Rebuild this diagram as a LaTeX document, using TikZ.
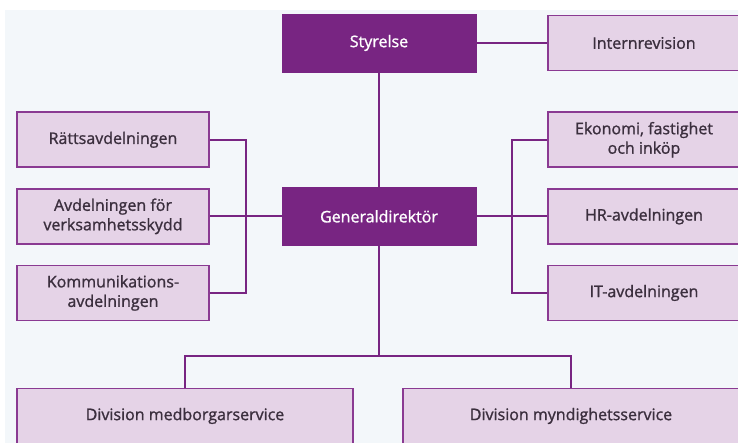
\documentclass[tikz,border=0pt]{standalone}
\usepackage{fontspec}
\setmainfont{Open Sans}[BoldFont={Open Sans}, BoldFeatures={FakeBold=1.2}]
\usetikzlibrary{positioning,calc}
\definecolor{orgdark}{HTML}{782582}
\definecolor{orgfill}{HTML}{E5D3E7}
\definecolor{orgline}{HTML}{8A3A92}
\definecolor{orgtext}{HTML}{3B2F3E}
\definecolor{orgbg}{HTML}{F3F7FA}

\begin{document}
\begin{tikzpicture}[x=1pt, y=1pt, node distance=20pt and 71pt,
  topbox/.style={fill=orgdark, draw=orgdark, text=white, minimum width=194pt,
    minimum height=58pt, font=\fontsize{16}{19.5}\selectfont\bfseries},
  unitbox/.style={fill=orgfill, draw=orgline, line width=1.6pt, text=orgtext,
    align=center, minimum width=192pt, minimum height=55pt,
    font=\fontsize{16}{19.5}\selectfont\bfseries},
  divbox/.style={unitbox, minimum width=336pt},
  link/.style={draw=orgdark, line width=2pt}]
  \clip (0,0) rectangle (738,443);
  \fill[orgbg] (5,0) rectangle (738,433);
  % ledning
  \node[topbox] (sty) at (379,400) {Styrelse};
  \node[topbox, below=115pt of sty] (gd) {Generaldirektör};
  \node[unitbox, right=71pt of sty] (irev) {Internrevision};
  % stab till höger
  \node[unitbox, right=71pt of gd] (hr) {HR-avdelningen};
  \node[unitbox, above=of hr] (ekon) {Ekonomi, fastighet\\och inköp};
  \node[unitbox, below=of hr] (it) {IT-avdelningen};
  % stab till vänster
  \node[unitbox, left=72pt of gd] (vsk) {Avdelningen för\\verksamhetsskydd};
  \node[unitbox, above=of vsk] (ratt) {Rättsavdelningen};
  \node[unitbox, below=of vsk] (komm) {Kommunikations-\\avdelningen};
  % divisioner
  \node[divbox] (dmed) at (185,27) {Division medborgarservice};
  \node[divbox] (dmyn) at (571,27) {Division myndighetsservice};
  \coordinate[below=110pt of gd] (split);
  \coordinate (lbus) at ($(vsk.east)!0.5!(gd.west)$);
  \coordinate (rbus) at ($(gd.east)!0.5!(hr.west)$);
  \draw[link] (sty) -- (irev);
  \draw[link] (sty) -- (gd);
  \draw[link] (gd.south) -- (split);
  \draw[link] (split) -| (dmed.north);
  \draw[link] (split) -| (dmyn.north);
  \draw[link] (ratt.east) -| (lbus) |- (komm.east);
  \draw[link] (vsk.east) -- (gd.west);
  \draw[link] (ekon.west) -| (rbus) |- (it.west);
  \draw[link] (gd.east) -- (hr.west);
\end{tikzpicture}
\end{document}
